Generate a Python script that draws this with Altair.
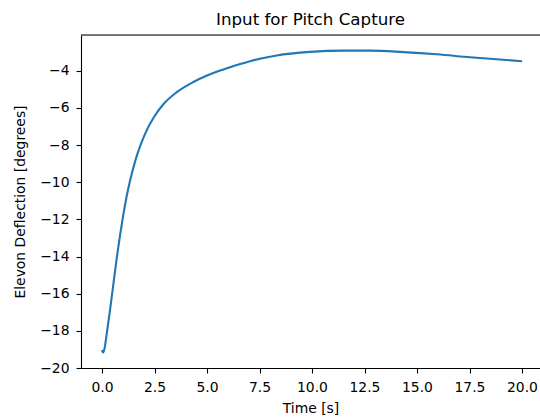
import altair as alt
import pandas as pd

time_s = [0.0, 0.05, 0.12, 0.22, 0.38, 0.54, 0.70, 0.86, 1.0, 1.15, 1.33, 1.57,
          1.85, 2.15, 2.44, 2.92, 3.56, 4.35, 5.0, 5.62, 6.1, 7.05, 8.32, 9.9,
          11.5, 12.8, 14.35, 15.94, 17.52, 20.0]
deflection = [-19.03, -19.17, -18.95, -18.2, -16.9, -15.5, -14.1, -12.85, -11.85,
              -10.9, -9.95, -8.9, -7.95, -7.15, -6.55, -5.8, -5.15, -4.6, -4.25,
              -3.98, -3.80, -3.48, -3.17, -2.98, -2.91, -2.91, -2.99, -3.11, -3.27,
              -3.48]
x_ticks = [0.0, 2.5, 5.0, 7.5, 10.0, 12.5, 15.0, 17.5, 20.0]
y_ticks = [-20, -18, -16, -14, -12, -10, -8, -6, -4]

df = pd.DataFrame({"t": time_s, "v": deflection})

FONT = "DejaVu Sans"
W, H = 459, 333

line = alt.Chart(df).mark_line(color="#1f77b4", strokeWidth=2.1, interpolate="monotone").encode(
    x=alt.X("t:Q",
            scale=alt.Scale(domain=[-1.0, 20.857], nice=False, zero=False),
            axis=alt.Axis(values=x_ticks, format=".1f", grid=False,
                          tickSize=5, labelPadding=7, labelFontSize=13.9,
                          labelFont=FONT, labelColor="black",
                          domainColor="black", tickColor="black",
                          domainWidth=1.1, tickWidth=1.1,
                          title="Time [s]", titleFont=FONT, titleFontSize=13.9,
                          titleFontWeight="normal", titleColor="black",
                          titleBaseline="alphabetic", titleY=44, labelFlush=False)),
    y=alt.Y("v:Q",
            scale=alt.Scale(domain=[-20.0, -2.07], nice=False, zero=False),
            axis=alt.Axis(values=y_ticks, format="d", grid=False,
                          tickSize=5, labelPadding=7, labelFontSize=13.9,
                          labelFont=FONT, labelColor="black",
                          domainColor="black", tickColor="black",
                          domainWidth=1.1, tickWidth=1.1,
                          title="Elevon Deflection [degrees]", titleFont=FONT,
                          titleFontSize=13.9, titleFontWeight="normal",
                          titleColor="black", titleAngle=270,
                          titleBaseline="middle", titleX=-61, titleY=166.5,
                          labelFlush=False)),
)

top_border = alt.Chart(pd.DataFrame({"a": [0]})).mark_rule(color="black", strokeWidth=1.1).encode(
    x=alt.value(0), x2=alt.value(W), y=alt.value(0)
)

chart = alt.layer(line, top_border).properties(
    width=W, height=H,
    title=alt.TitleParams("Input for Pitch Capture", font=FONT, fontSize=16.7,
                          fontWeight="normal", color="black", anchor="middle",
                          baseline="alphabetic", offset=10, dy=17),
    autosize=alt.AutoSizeParams(type="none"),
    padding={"left": 81, "top": 35, "right": 0, "bottom": 50},
).configure_view(stroke=None).configure(background="white")

chart.save("out.html", embed_options={"renderer": "svg", "actions": False})
